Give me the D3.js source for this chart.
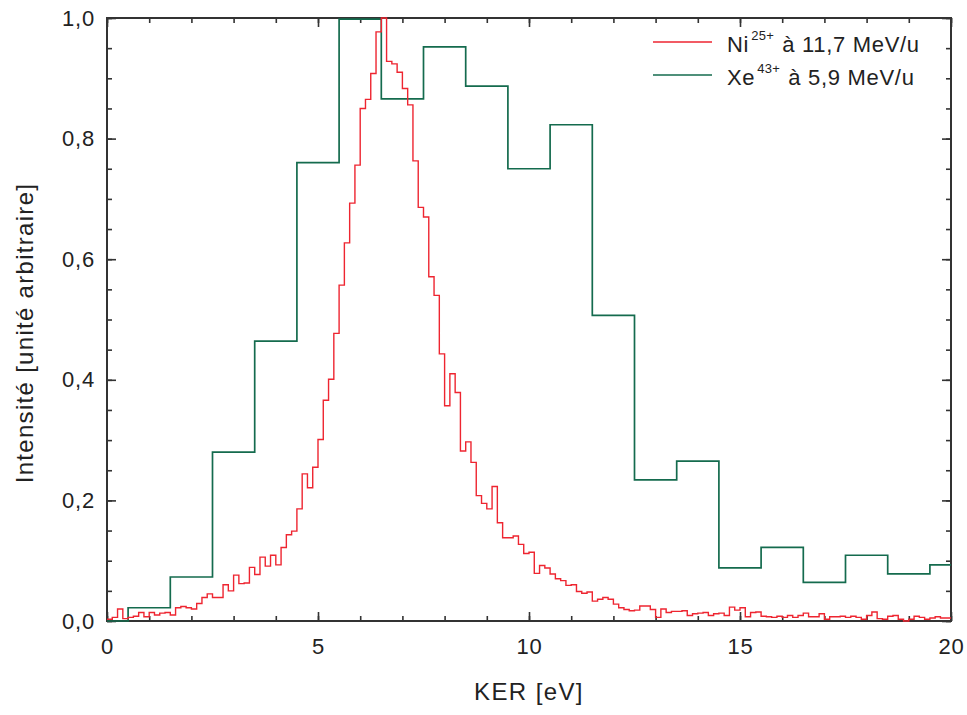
<!DOCTYPE html>
<html><head><meta charset="utf-8">
<script src="https://cdn.jsdelivr.net/npm/d3@7"></script>
<style>body{margin:0;background:#fff}svg{display:block}text{font-family:"Liberation Sans",Arial,sans-serif;fill:#222}</style>
</head><body>
<script>
// Ni25+ histogram: bin width 0.125 eV, 160 bins from 0 to 20 eV
const niBinWidth = 0.125;
const niValues = [
0.003,0.006,0.020,0.004,0.006,0.008,0.014,0.007,0.014,0.010,
0.013,0.014,0.010,0.022,0.024,0.022,0.020,0.029,0.039,0.045,
0.039,0.039,0.060,0.050,0.076,0.062,0.063,0.089,0.077,0.106,
0.091,0.109,0.093,0.122,0.143,0.149,0.186,0.244,0.221,0.255,
0.301,0.366,0.401,0.477,0.557,0.627,0.693,0.756,0.850,0.865,
0.908,0.977,1.000,0.928,0.924,0.910,0.883,0.856,0.763,0.686,
0.670,0.571,0.540,0.443,0.357,0.410,0.379,0.282,0.297,0.263,
0.208,0.195,0.186,0.223,0.163,0.138,0.138,0.141,0.127,0.112,
0.114,0.079,0.092,0.088,0.078,0.070,0.067,0.059,0.060,0.049,
0.046,0.048,0.033,0.036,0.039,0.036,0.028,0.022,0.019,0.017,
0.018,0.025,0.025,0.019,0.006,0.020,0.014,0.016,0.016,0.017,
0.009,0.012,0.013,0.014,0.009,0.012,0.013,0.009,0.023,0.018,
0.022,0.007,0.014,0.015,0.008,0.007,0.006,0.008,0.006,0.009,
0.006,0.009,0.013,0.007,0.007,0.012,0.003,0.007,0.007,0.008,
0.006,0.008,0.006,0.003,0.009,0.015,0.004,0.003,0.008,0.009,
0.003,0.000,0.003,0.008,0.006,0.003,0.005,0.007,0.005,0.005
];
// Xe43+ histogram: bin edges (eV) and heights
const xeEdges = [0,0.5,1.5,2.5,3.5,4.5,5.5,6.5,7.5,8.5,9.5,10.5,11.5,12.5,13.5,14.5,15.5,16.5,17.5,18.5,19.5,20];
const xeValues = [0,0.022,0.073,0.280,0.464,0.760,0.998,0.866,0.952,0.887,0.750,0.823,0.507,0.234,0.265,0.088,0.122,0.064,0.109,0.078,0.093];
const xTicks = [0,5,10,15,20];
const yTicks = [0,0.2,0.4,0.6,0.8,1.0];
const seriesNames = ["Ni", "Xe"];
const seriesSup = ["25+", "43+"];
const seriesRest = ["à 11,7 MeV/u", "à 5,9 MeV/u"];
const colors = ["#ee2530", "#146b4e"];

const W = 967, H = 715;
const m = {l:107, r:16, t:18, b:94};
const svg = d3.select("body").append("svg").attr("width", W).attr("height", H);
const x = d3.scaleLinear().domain([0,20]).range([m.l, W - m.r]);
const y = d3.scaleLinear().domain([0,1]).range([H - m.b, m.t]);
const loc = d3.formatLocale({decimal:",", thousands:".", grouping:[3], currency:["","€"]});
const fy = loc.format(".1f");

const axisColor = "#333";
const xMinor = d3.range(0, 21, 1), yMinor = d3.range(0, 1.0001, 0.05);
const g = svg.append("g");

// frame
svg.append("rect").attr("x", x(0)).attr("y", y(1)).attr("width", x(20)-x(0)).attr("height", y(0)-y(1))
  .attr("fill","none").attr("stroke", axisColor).attr("stroke-width", 2);

function tickAxes(){
  const bot = g.append("g").attr("transform", `translate(0,${y(0)})`)
    .call(d3.axisBottom(x).tickValues(xMinor).tickSize(-5).tickFormat(""));
  const botM = g.append("g").attr("transform", `translate(0,${y(0)})`)
    .call(d3.axisBottom(x).tickValues(xTicks).tickSize(-9).tickPadding(17).tickFormat(d3.format("d")));
  const top = g.append("g").attr("transform", `translate(0,${y(1)})`)
    .call(d3.axisTop(x).tickValues(xMinor).tickSize(-5).tickFormat(""));
  const topM = g.append("g").attr("transform", `translate(0,${y(1)})`)
    .call(d3.axisTop(x).tickValues(xTicks).tickSize(-9).tickFormat(""));
  const lef = g.append("g").attr("transform", `translate(${x(0)},0)`)
    .call(d3.axisLeft(y).tickValues(yMinor).tickSize(-5).tickFormat(""));
  const lefM = g.append("g").attr("transform", `translate(${x(0)},0)`)
    .call(d3.axisLeft(y).tickValues(yTicks).tickSize(-9).tickPadding(12).tickFormat(fy));
  const rig = g.append("g").attr("transform", `translate(${x(20)},0)`)
    .call(d3.axisRight(y).tickValues(yMinor).tickSize(-5).tickFormat(""));
  const rigM = g.append("g").attr("transform", `translate(${x(20)},0)`)
    .call(d3.axisRight(y).tickValues(yTicks).tickSize(-9).tickFormat(""));
  [bot,botM,top,topM,lef,lefM,rig,rigM].forEach(a=>{
    a.selectAll(".domain").remove();
    a.selectAll("line").attr("stroke", axisColor).attr("stroke-width", 1.6);
    a.selectAll("text").attr("font-size", 22).attr("letter-spacing", 0.8).attr("fill", "#222")
      .attr("font-family", "'Liberation Sans', Arial, sans-serif");
  });
}
tickAxes();

// series
const niPts = niValues.map((v,i)=>[i*niBinWidth, v]);
niPts.push([niValues.length*niBinWidth, niValues[niValues.length-1]]);
const xePts = xeValues.map((v,i)=>[xeEdges[i], v]);
xePts.push([xeEdges[xeEdges.length-1], xeValues[xeValues.length-1]]);
const line = d3.line().x(d=>x(d[0])).y(d=>y(d[1])).curve(d3.curveStepAfter);
svg.append("path").attr("d", line(xePts)).attr("fill","none").attr("stroke", colors[1]).attr("stroke-width", 1.7);
svg.append("path").attr("d", line(niPts)).attr("fill","none").attr("stroke", colors[0]).attr("stroke-width", 1.4);

// axis titles
svg.append("text").attr("x", (x(0)+x(20))/2).attr("y", 700).attr("text-anchor","middle")
  .attr("font-size", 24).attr("letter-spacing", 1.4).text("KER [eV]");
svg.append("text").attr("transform", `translate(33,333) rotate(-90)`).attr("text-anchor","middle")
  .attr("font-size", 24).attr("letter-spacing", 1.3).text("Intensité [unité arbitraire]");

// legend
seriesNames.forEach((n,i)=>{
  const ly = 42 + i*33;
  svg.append("line").attr("x1", 653).attr("x2", 712).attr("y1", ly).attr("y2", ly).attr("stroke", colors[i]).attr("stroke-width", 1.5);
  const t = svg.append("text").attr("x", 727).attr("y", ly + 10).attr("font-size", 22).attr("letter-spacing", 0.7);
  t.append("tspan").text(n);
  t.append("tspan").attr("font-size", 13).attr("dy", -12).attr("dx", 2).attr("letter-spacing", 0.3).text(seriesSup[i]);
  t.append("tspan").attr("dy", 12).attr("dx", 8).text(seriesRest[i]);
});
</script>
</body></html>
